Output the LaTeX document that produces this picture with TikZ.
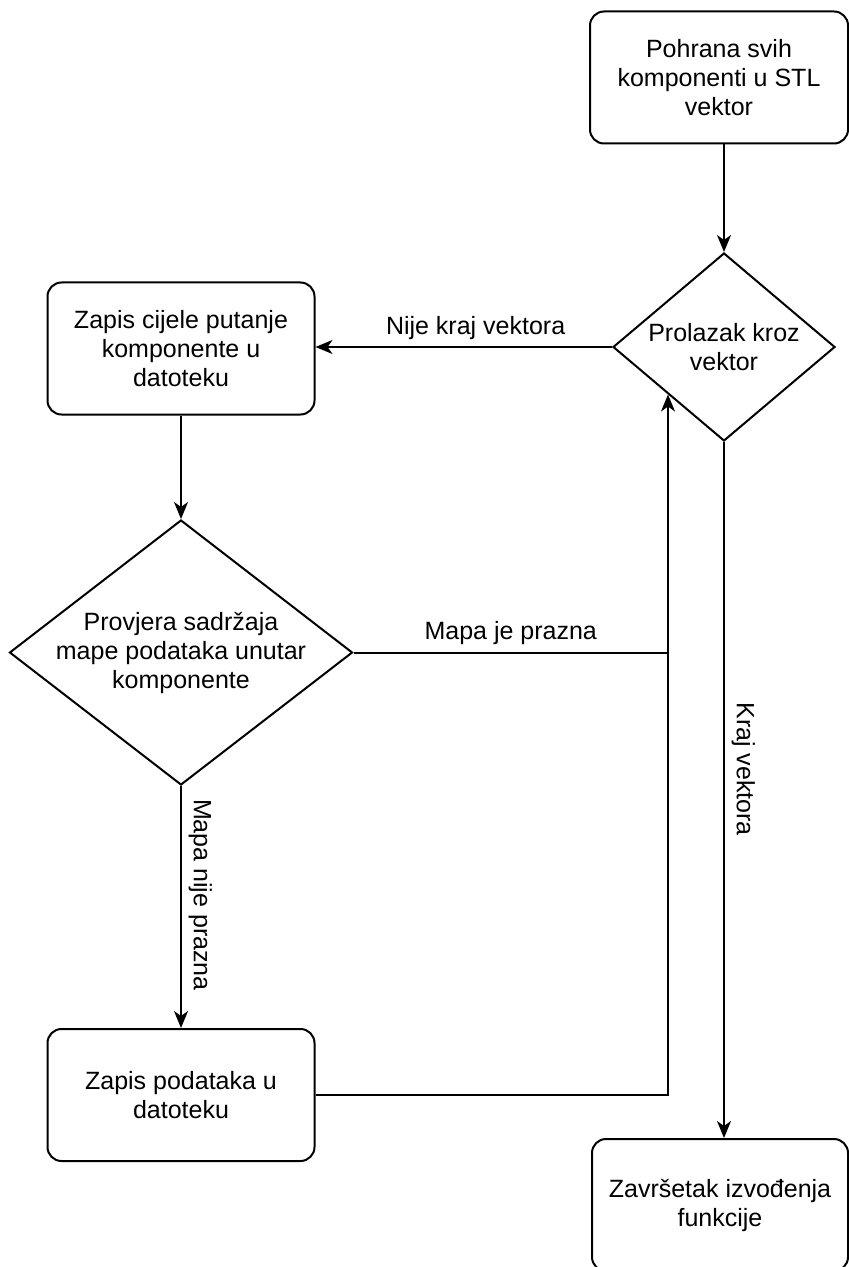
\documentclass[tikz,border=0pt]{standalone}
\usepackage{fontspec}
\setmainfont{Liberation Sans}
\usetikzlibrary{arrows.meta,calc,shapes.geometric}

\begin{document}
\begin{tikzpicture}[x=0.5pt,y=-0.5pt,line width=1pt,>={Stealth[length=8.5pt,width=7pt,inset=2.5pt]},
    every node/.style={font=\fontsize{12.5}{14.5}\selectfont},
    kutija/.style={draw,rounded corners=7pt,align=center,minimum height=66pt},
    odluka/.style={draw,diamond,aspect=1.2,inner xsep=-30pt,inner ysep=0pt,align=center}]
        \useasboundingbox (0,0) rectangle (849,1267);
        \node[kutija,minimum width=129pt] (pohrana) at (719,77.5) {Pohrana svih\\komponenti u STL\\vektor};
        \node[odluka,minimum width=111pt,minimum height=94pt] (prolazak) at (724,347) {Prolazak kroz\\vektor};
        \node[kutija,minimum width=133.5pt] (zapisput) at (181,348.5) {Zapis cijele putanje\\komponente u\\datoteku};
        \node[odluka,minimum width=171.5pt,minimum height=132.5pt] (provjera) at (181,652.5) {Provjera sadržaja\\mape podataka unutar\\komponente};
        \node[kutija,minimum width=133.5pt] (zapispod) at (181,1095) {Zapis podataka u\\datoteku};
        \node[kutija,minimum width=128pt] (zavrsetak) at (720,1205) {Završetak izvođenja\\funkcije};
        \coordinate (ulaz) at ($(prolazak.west)!0.5!(prolazak.south)$);
        \draw[->] (prolazak.north |- pohrana.south) -- (prolazak.north);
        \draw[->] (prolazak.west) -- node[above,pos=0.46] {Nije kraj vektora} (zapisput.east |- prolazak.west);
        \draw[->] (zapisput) -- (provjera);
        \draw[->] (provjera) -- node[pos=0.45,rotate=-90,anchor=south] {Mapa nije prazna} (zapispod);
        \draw (provjera.east) -- node[above] {Mapa je prazna} (provjera.east -| ulaz);
        \draw[->] (zapispod.east) -| (ulaz);
        \draw[->] (prolazak.south) -- node[pos=0.47,rotate=-90,anchor=south] {Kraj vektora} (prolazak.south |- zavrsetak.north);
\end{tikzpicture}
\end{document}
